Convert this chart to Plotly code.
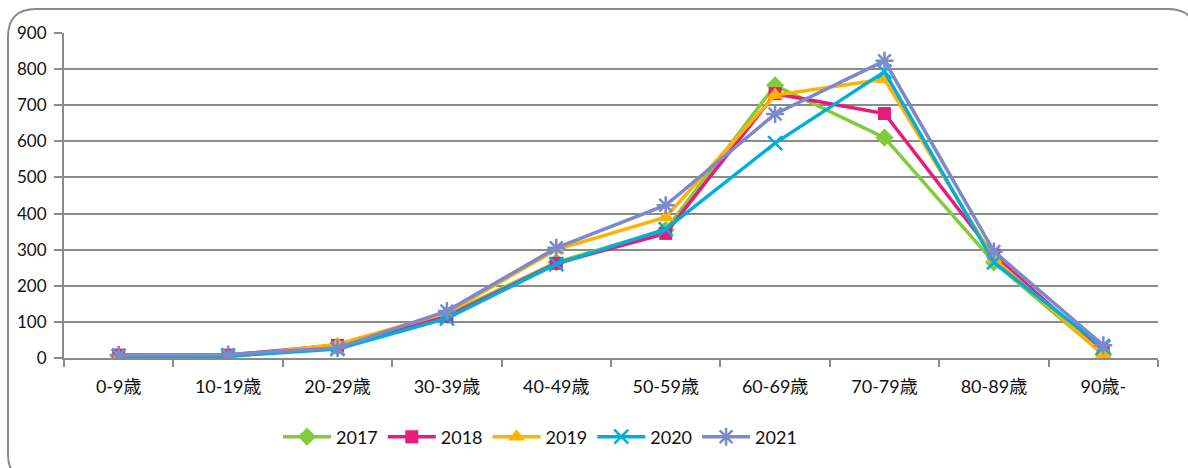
import plotly.graph_objects as go

categories = ["0-9歳", "10-19歳", "20-29歳", "30-39歳", "40-49歳",
              "50-59歳", "60-69歳", "70-79歳", "80-89歳", "90歳-"]
years = ["2017", "2018", "2019", "2020", "2021"]
v2017 = [5, 5, 30, 120, 265, 355, 755, 610, 265, 10]
v2018 = [8, 8, 35, 115, 262, 345, 732, 677, 285, 15]
v2019 = [2, 3, 38, 125, 300, 390, 728, 772, 275, 10]
v2020 = [5, 5, 25, 110, 260, 357, 595, 793, 265, 30]
v2021 = [8, 10, 28, 130, 305, 423, 676, 823, 295, 35]
series = [v2017, v2018, v2019, v2020, v2021]

colors = ["#80CC3A", "#EA1A7B", "#FFB300", "#00AEDC", "#7A8ACA"]
symbols = ["diamond", "square", "triangle-up", "x-thin", "asterisk"]
sizes = [14, 13, 15, 14, 15]

W, H = 1188, 468
L, R, T, B = 64, 30, 33, 110
pw, ph = W - L - R, H - T - B

fig = go.Figure()
for name, vals, c, s, sz in zip(years, series, colors, symbols, sizes):
    open_sym = s in ("x-thin", "asterisk")
    fig.add_trace(go.Scatter(
        x=categories, y=vals, name=name, mode="lines+markers",
        line=dict(color=c, width=3.5),
        marker=dict(symbol=s, size=sz, color=c,
                    line=dict(color=c, width=2.5 if open_sym else 0)),
    ))

def px(x):
    return (x - L) / pw

def py(y):
    return (H - B - y) / ph

# rounded border around the chart (right and bottom edges run off the page)
x0, x1, y0, y1, r = 8, 1196, 9, 482, 28
path = (f"M {px(x0)},{py(y0 + r)} "
        f"Q {px(x0)},{py(y0)} {px(x0 + r)},{py(y0)} "
        f"L {px(x1 - r)},{py(y0)} "
        f"Q {px(x1)},{py(y0)} {px(x1)},{py(y0 + r)} "
        f"L {px(x1)},{py(y1 - r)} "
        f"Q {px(x1)},{py(y1)} {px(x1 - r)},{py(y1)} "
        f"L {px(x0 + r)},{py(y1)} "
        f"Q {px(x0)},{py(y1)} {px(x0)},{py(y1 - r)} Z")

fig.update_layout(
    width=W, height=H,
    margin=dict(l=L, r=R, t=T, b=B, autoexpand=False),
    paper_bgcolor="white", plot_bgcolor="white",
    font=dict(family="Lato, 'Noto Sans CJK JP', sans-serif", size=17, color="#111"),
    showlegend=True,
    legend=dict(orientation="h", x=px(540), xanchor="center", y=py(437), yanchor="middle",
                font=dict(size=18), tracegroupgap=0, itemwidth=48),
    shapes=[dict(type="path", path=path, xref="paper", yref="paper",
                 line=dict(color="#8a8a8a", width=2), layer="below")],
)
fig.update_xaxes(
    type="category", range=[-0.5, 9.5], showgrid=False,
    showline=True, linecolor="#8a8a8a", linewidth=2,
    ticks="outside", tickson="boundaries", ticklen=7, tickcolor="#8a8a8a", tickwidth=2,
    tickfont=dict(size=18), ticklabelstandoff=11,
)
fig.update_yaxes(
    range=[0, 900], dtick=100, showgrid=True, gridcolor="#8a8a8a", gridwidth=2,
    showline=True, linecolor="#8a8a8a", linewidth=2, zeroline=False,
    ticks="outside", ticklen=8, tickcolor="#8a8a8a", tickwidth=2,
    tickfont=dict(size=17), ticklabelstandoff=4,
)

fig.write_html("out.html", config={"displayModeBar": False},
               post_script="document.body.style.margin='0px';")
